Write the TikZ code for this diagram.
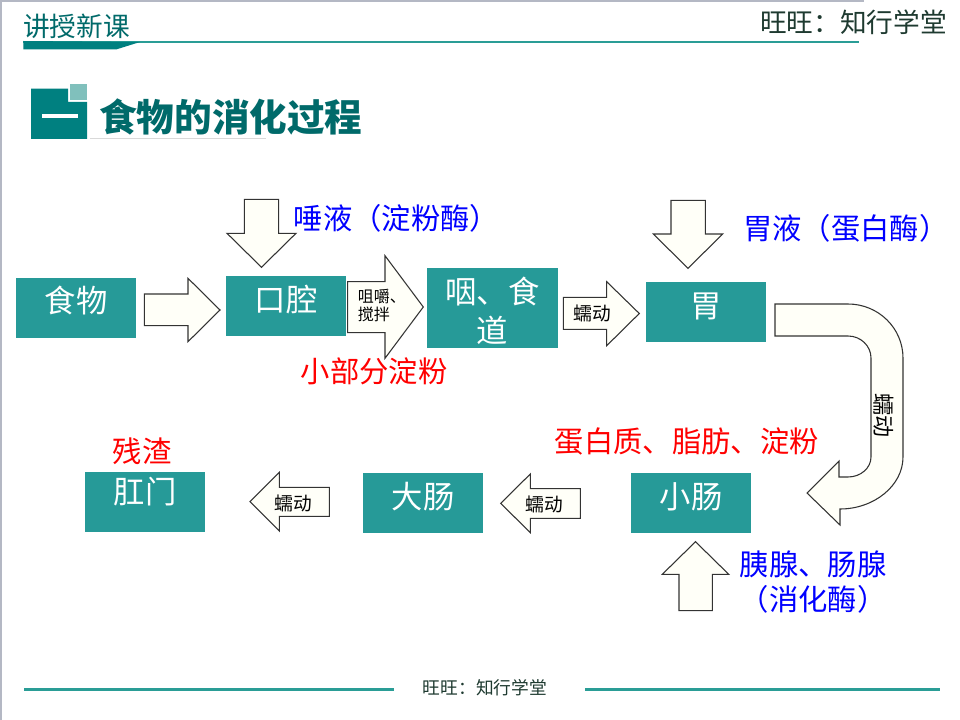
\documentclass[tikz,border=0pt]{standalone}
\usepackage{fontspec}
\setmainfont{Noto Sans CJK SC}
\definecolor{boxteal}{HTML}{269A98}
\definecolor{deepteal}{HTML}{008080}
\definecolor{lightteal}{HTML}{80C0BC}
\definecolor{titleteal}{HTML}{006A6A}
\definecolor{ruleteal}{HTML}{2A9D96}
\definecolor{arrowfill}{HTML}{FFFFF8}
\definecolor{arrowline}{HTML}{333333}
\definecolor{headink}{HTML}{1E3A30}
\definecolor{framegray}{HTML}{B4B8C4}
\tikzset{
  tealbox/.style={fill=boxteal,inner sep=0pt,minimum width=90pt,minimum height=45pt},
  boxtext/.style={text=white,inner sep=0pt,font=\fontsize{23.5}{29}\selectfont,align=center},
  blocka/.style={draw=arrowline,fill=arrowfill,line width=0.8pt,line join=miter},
  smalltext/.style={inner sep=0pt,text=black,font=\fontsize{14}{15}\selectfont},
  bluetext/.style={inner sep=0pt,text=blue,font=\fontsize{22}{26}\selectfont},
  redtext/.style={inner sep=0pt,text=red,font=\fontsize{22}{26}\selectfont},
  headtext/.style={inner sep=0pt,text=headink},
}
\begin{document}
\begin{tikzpicture}[x=0.75pt,y=-0.75pt]
\path[use as bounding box,fill=white] (0,0) rectangle (960,720);
% frame
\fill[framegray] (0,0) rectangle (864,2);
\fill[framegray] (0,0) rectangle (2,720);
% header
\node[headtext,anchor=west,text=titleteal,font=\fontsize{20}{22}\selectfont] (hleft) at (23,26.5) {讲授新课};
\node[headtext,anchor=east,font=\fontsize{20}{22}\selectfont] (hright) at (947,22.5) {旺旺：知行学堂};
\fill[ruleteal] (23.3,41) rectangle (859,43.2);
\fill[deepteal] (23.3,41) -- (140,42) -- (116.7,49.3) -- (23.3,49.3) -- cycle;
% section icon
\fill[deepteal] (31,88.7) -- (68,88.7) -- (68,102) -- (87,102) -- (87,139) -- (31,139) -- cycle;
\fill[lightteal] (69.5,84) rectangle (87,100.5);
\fill[white] (41.5,114.3) rectangle (78,118);
\fill[gray!30] (90,137.6) rectangle (266,138.6);
\node[inner sep=0pt,anchor=west,text=titleteal,font=\fontsize{28.2}{30}\bfseries\selectfont] (title) at (99,116.5) {食物的消化过程};
% boxes
\node[tealbox] (food) at (76,308) {};
\node[tealbox] (mouth) at (286,306) {};
\node[tealbox,minimum width=98.25pt,minimum height=60pt] (throat) at (492.5,308) {};
\node[tealbox] (stomach) at (706,312) {};
\node[tealbox] (small) at (691,503) {};
\node[tealbox] (large) at (423,503) {};
\node[tealbox] (anus) at (145,502) {};
\node[boxtext] (foodt) at (76,300) {食物};
\node[boxtext] (moutht) at (286,300) {口腔};
\node[boxtext] (throatt) at (492.5,311) {咽、食\\道};
\node[boxtext] (stomacht) at (706,306) {胃};
\node[boxtext] (smallt) at (691,497) {小肠};
\node[boxtext] (larget) at (423,497) {大肠};
\node[boxtext] (anust) at (145,492) {肛门};
% block arrows
\draw[blocka] (144.3,294) -- (188,294) -- (188,278.3) -- (220,310) -- (188,341.7) -- (188,325.7) -- (144.3,325.7) -- cycle;
\draw[blocka] (244.3,199.3) -- (278.7,199.3) -- (278.7,233.3) -- (296,233.3) -- (261.5,267.3) -- (227,233.3) -- (244.3,233.3) -- cycle;
\draw[blocka] (671,200.3) -- (705.3,200.3) -- (705.3,234) -- (722.7,234) -- (688,268.3) -- (653.3,234) -- (671,234) -- cycle;
\draw[blocka] (679,610.7) -- (712.3,610.7) -- (712.3,574.3) -- (728.7,574.3) -- (695.5,541.7) -- (662.3,574.3) -- (679,574.3) -- cycle;
\draw[blocka] (347.7,281.7) -- (385,281.7) -- (385,255.7) -- (423.3,307) -- (385,358.3) -- (385,332.7) -- (347.7,332.7) -- cycle;
\draw[blocka] (563.3,297.3) -- (606.7,297.3) -- (606.7,281.7) -- (639.3,313.5) -- (606.7,345.7) -- (606.7,329.3) -- (563.3,329.3) -- cycle;
\draw[blocka] (250,501.7) -- (279.3,472.3) -- (279.3,487.3) -- (329.3,487.3) -- (329.3,516.3) -- (279.3,516.3) -- (279.3,531) -- cycle;
\draw[blocka] (500.7,503.3) -- (530.3,474) -- (530.3,488.7) -- (580.3,488.7) -- (580.3,518.3) -- (530.3,518.3) -- (530.3,532.7) -- cycle;
% bent arrow
\draw[blocka] (775,304) -- (848,304)
  .. controls (878.4,304) and (903,328.2) .. (903,358)
  -- (903,457)
  .. controls (903,485.7) and (874,509) .. (840,509)
  -- (840,525) -- (807,493) -- (839,461) -- (839,477) -- (848,477)
  .. controls (860.7,477) and (871,468) .. (871,457)
  -- (871,358)
  .. controls (871,345.9) and (860.7,336) .. (848,336)
  -- (775,336) -- cycle;
% arrow texts
\node[smalltext,anchor=west,align=left,font=\fontsize{12}{13.5}\selectfont] (chew) at (357.5,306) {咀嚼、\\搅拌};
\node[smalltext] (perione) at (592,313) {蠕动};
\node[smalltext] (peritwo) at (293.5,503) {蠕动};
\node[smalltext] (perithree) at (544.5,504) {蠕动};
\node[smalltext,rotate=-90,font=\fontsize{16.5}{18}\selectfont] (perifour) at (884,415) {蠕动};
% coloured labels
\node[bluetext,anchor=west] (saliva) at (293.5,218) {唾液（淀粉酶）};
\node[bluetext,anchor=west] (gastric) at (743,228) {胃液（蛋白酶）};
\node[bluetext] (pancreas) at (813,564) {胰腺、肠腺};
\node[bluetext] (enzyme) at (813,599) {（消化酶）};
\node[redtext] (starch) at (374,371) {小部分淀粉};
\node[redtext] (residue) at (142,451) {残渣};
\node[redtext,anchor=west] (nutrients) at (554.5,441) {蛋白质、脂肪、淀粉};
% footer
\fill[ruleteal] (24,687.5) rectangle (394,690.5);
\fill[ruleteal] (585,687.5) rectangle (940,690.5);
\node[headtext,font=\fontsize{13.3}{15}\selectfont] (foot) at (485,688) {旺旺：知行学堂};
\end{tikzpicture}
\end{document}
